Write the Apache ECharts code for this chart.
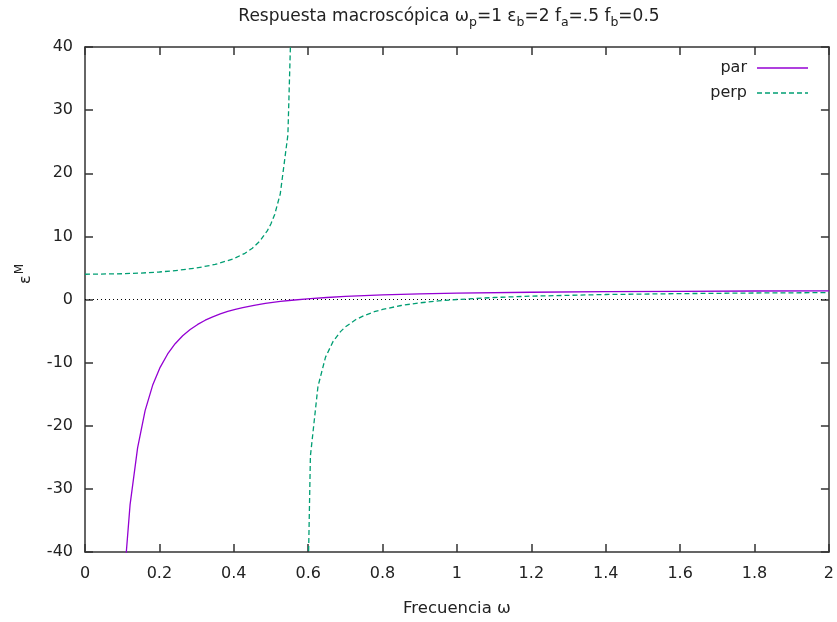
<!DOCTYPE html>
<html>
<head>
<meta charset="utf-8">
<script src="https://cdn.jsdelivr.net/npm/echarts@6/dist/echarts.min.js"></script>
<style>html,body{margin:0;padding:0;background:#fff}#c{width:837px;height:622px}</style>
</head>
<body>
<div id="c"></div>
<script>
// Data
const parX  = [0.101, 0.1212, 0.1414, 0.1616, 0.1818, 0.202, 0.2222, 0.2424, 0.2626, 0.2828, 0.303, 0.3232, 0.3434, 0.3636, 0.3838, 0.404, 0.4242, 0.4545, 0.4848, 0.505, 0.5253, 0.5556, 0.606, 0.65, 0.7, 0.75, 0.8, 0.85, 0.9, 1.0, 1.2, 1.4, 1.6, 1.8, 2.0];
const parY  = [-47.5, -32.5, -23.5, -17.6, -13.6, -10.75, -8.63, -7.0, -5.75, -4.75, -3.95, -3.28, -2.74, -2.28, -1.89, -1.56, -1.28, -0.92, -0.63, -0.46, -0.31, -0.12, 0.14, 0.32, 0.48, 0.61, 0.72, 0.81, 0.88, 1.0, 1.15, 1.24, 1.30, 1.35, 1.375];
const perpX = [0, 0.1, 0.15, 0.2, 0.25, 0.3, 0.35, 0.4, 0.43, 0.45, 0.47, 0.49, 0.5, 0.51, 0.525, 0.5455, 0.5657, null, 0.5859, 0.606, 0.6263, 0.6465, 0.6667, 0.6869, 0.7, 0.7273, 0.75, 0.7778, 0.8, 0.85, 0.9, 0.95, 1.0, 1.1, 1.2, 1.4, 1.6, 1.8, 2.0];
const perpY = [4.0, 4.08, 4.19, 4.36, 4.62, 4.99, 5.55, 6.46, 7.32, 8.13, 9.24, 10.87, 12.0, 13.47, 16.74, 26.1, 68, null, -88, -24.8, -13.78, -9.16, -6.67, -5.09, -4.34, -3.21, -2.55, -1.94, -1.57, -0.95, -0.53, -0.23, 0.0, 0.32, 0.53, 0.79, 0.93, 1.03, 1.09];
const xTicks = {min: 0, max: 2, step: 0.2};
const yTicks = {min: -40, max: 40, step: 10};
const seriesNames = ['par', 'perp'];

const pairs = (xs, ys) => xs.map((x, i) => (x === null ? null : [x, ys[i]]));
const FONT = 'DejaVu Sans';
const axisCol = '#333';
const txt = '#222';
const colors = ['#9400d3', '#009e73'];
const dashes = [null, [5, 3]];

const chart = echarts.init(document.getElementById('c'));
const axisCommon = {
  type: 'value',
  axisLine: {show: true, onZero: false, lineStyle: {color: axisCol, width: 1.5}},
  axisTick: {show: true, inside: true, length: 8, lineStyle: {color: axisCol, width: 1.5}},
  splitLine: {show: false}
};

// legend drawn as text + sample line (gnuplot style: text left of sample)
const legendGraphics = [];
seriesNames.forEach((n, i) => {
  const y = 68 + i * 25;
  legendGraphics.push({
    type: 'text', x: 747, y: y, silent: true,
    style: {text: n, font: '16px "' + FONT + '"', fill: txt, align: 'right', verticalAlign: 'middle'}
  });
  legendGraphics.push({
    type: 'line', silent: true,
    shape: {x1: 757, y1: y, x2: 808, y2: y},
    style: {stroke: colors[i], lineWidth: 1.5, lineDash: dashes[i]}
  });
});

chart.setOption({
  animation: false,
  textStyle: {fontFamily: FONT},
  title: {
    text: '{t|Respuesta macroscópica ω}{s|p}{t|=1 ε}{s|b}{t|=2 f}{s|a}{t|=.5 f}{s|b}{t|=0.5}',
    left: 444, top: 0, textAlign: 'center',
    textStyle: {
      fontWeight: 'normal',
      rich: {
        t: {fontFamily: FONT, fontSize: 17, fontWeight: 'normal', color: txt, verticalAlign: 'bottom', lineHeight: 20},
        s: {fontFamily: FONT, fontSize: 12.5, fontWeight: 'normal', color: txt, verticalAlign: 'bottom', lineHeight: 12, padding: [0, 0, -4, 0]}
      }
    }
  },
  grid: {left: 85, right: 7, top: 47, bottom: 70, containLabel: false},
  xAxis: [
    Object.assign({}, axisCommon, {
      position: 'bottom', min: xTicks.min, max: xTicks.max, interval: xTicks.step,
      name: 'Frecuencia ω', nameLocation: 'middle', nameGap: 48,
      nameTextStyle: {fontFamily: FONT, fontSize: 16.5, color: txt},
      axisLabel: {fontFamily: FONT, fontSize: 16, color: txt, margin: 14}
    }),
    Object.assign({}, axisCommon, {
      position: 'top', min: xTicks.min, max: xTicks.max, interval: xTicks.step,
      axisLabel: {show: false}
    })
  ],
  yAxis: [
    Object.assign({}, axisCommon, {
      position: 'left', min: yTicks.min, max: yTicks.max, interval: yTicks.step,
      axisLabel: {fontFamily: FONT, fontSize: 16, color: txt, margin: 12}
    }),
    Object.assign({}, axisCommon, {
      position: 'right', min: yTicks.min, max: yTicks.max, interval: yTicks.step,
      axisLabel: {show: false}
    })
  ],
  graphic: legendGraphics.concat([{
    type: 'text', x: 24, y: 274, rotation: Math.PI / 2,
    style: {
      text: '{e|ε}{m|M}', align: 'center', verticalAlign: 'middle',
      rich: {
        e: {fontFamily: FONT, fontSize: 16, fill: txt, verticalAlign: 'bottom', lineHeight: 20},
        m: {fontFamily: FONT, fontSize: 12, fill: txt, verticalAlign: 'top', lineHeight: 20, padding: [0, 0, 8, 1]}
      }
    }
  }]),
  series: [
    {
      name: 'zero', type: 'line', data: [[xTicks.min, 0], [xTicks.max, 0]], symbol: 'none', silent: true,
      lineStyle: {color: '#000', width: 1, type: [1, 3]}, z: 1
    },
    {
      name: seriesNames[0], type: 'line', data: pairs(parX, parY), symbol: 'none', clip: true,
      connectNulls: false, smooth: false,
      lineStyle: {color: colors[0], width: 1.3}, itemStyle: {color: colors[0]}, z: 3
    },
    {
      name: seriesNames[1], type: 'line', data: pairs(perpX, perpY), symbol: 'none', clip: true,
      connectNulls: false,
      lineStyle: {color: colors[1], width: 1.3, type: dashes[1]}, itemStyle: {color: colors[1]}, z: 2
    }
  ]
});
</script>
</body>
</html>
